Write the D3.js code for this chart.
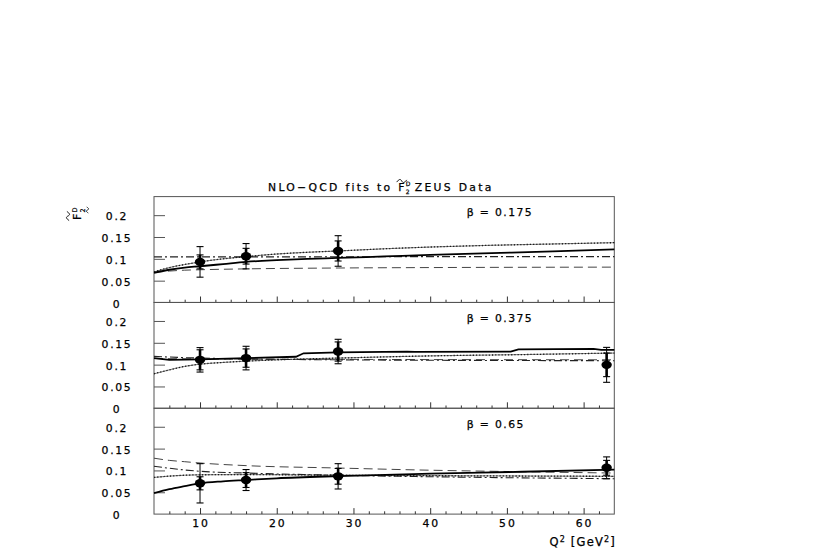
<!DOCTYPE html>
<html><head><meta charset="utf-8">
<script src="https://cdn.jsdelivr.net/npm/d3@7"></script>
<style>
body{margin:0;background:#fff}
svg text{font-family:"DejaVu Sans",sans-serif;fill:#000;stroke:#000;stroke-width:0.25px}
</style>
</head><body>
<svg id="c" width="830" height="554"></svg>
<script>
// ---------- data ----------
const betaLabels = ["β = 0.175", "β = 0.375", "β = 0.65"];
const xMajorTicks = [10, 20, 30, 40, 50, 60];
const xMinorTicks = [6, 8, 12, 14, 16, 18, 22, 24, 26, 28, 32, 34, 36, 38, 42, 44, 46, 48, 52, 54, 56, 58, 62];
const yTickValues = [0, 0.05, 0.1, 0.15, 0.2];
const yTickLabels = ["0", "0.05", "0.1", "0.15", "0.2"];

// data points: Q2, value, stat error, total error
const p1Q = [10, 16, 28];
const p1V = [0.093, 0.106, 0.118];
const p1Stat = [0.016, 0.018, 0.023];
const p1Tot = [0.035, 0.029, 0.035];

const p2Q = [10, 16, 28, 63];
const p2V = [0.111, 0.115, 0.130, 0.0995];
const p2Stat = [0.023, 0.021, 0.022, 0.027];
const p2Tot = [0.028, 0.027, 0.028, 0.040];

const p3Q = [10, 16, 28, 63];
const p3V = [0.0705, 0.078, 0.0865, 0.106];
const p3Stat = [0.015, 0.017, 0.018, 0.017];
const p3Tot = [0.045, 0.024, 0.029, 0.025];

// fit curves [Q2, value]
const p1Solid = [[4,0.068],[6,0.075],[8,0.080],[10,0.083],[13,0.088],[16,0.093],[20,0.097],[24,0.100],[28,0.102],[34,0.1055],[40,0.109],[48,0.113],[56,0.117],[64,0.1215]];
const p1Dotted = [[4,0.070],[6,0.080],[8,0.087],[10,0.093],[13,0.100],[16,0.105],[20,0.111],[24,0.115],[28,0.118],[34,0.123],[40,0.127],[48,0.131],[56,0.134],[64,0.137]];
const p1DashDot = [[4,0.1045],[20,0.1045],[40,0.105],[64,0.105]];
const p1Dashed = [[4,0.069],[6,0.072],[8,0.074],[10,0.075],[16,0.077],[28,0.079],[40,0.080],[64,0.081]];

const p2Solid = [[4,0.115],[6,0.111],[10,0.112],[16,0.115],[22.5,0.118],[23.5,0.126],[28,0.128],[37,0.130],[38,0.129],[50.5,0.130],[51.5,0.135],[61.3,0.136],[62.3,0.134],[64,0.134]];
const p2Dotted = [[4,0.079],[6,0.088],[8,0.096],[10,0.101],[13,0.105],[16,0.108],[20,0.111],[28,0.115],[40,0.120],[52,0.123],[64,0.1265]];
const p2DashDot = [[4,0.119],[8,0.116],[10,0.115],[16,0.113],[28,0.111],[40,0.110],[64,0.109]];
const p2Dashed = [[4,0.114],[10,0.113],[16,0.1125],[28,0.112],[64,0.111]];

const p3Solid = [[4,0.048],[6,0.057],[8,0.064],[10,0.0705],[13,0.075],[16,0.078],[20,0.082],[28,0.087],[40,0.0925],[52,0.097],[64,0.102]];
const p3Dotted = [[4,0.084],[6,0.087],[8,0.089],[10,0.090],[16,0.0905],[28,0.089],[40,0.088],[64,0.0865]];
const p3DashDot = [[4,0.1095],[6,0.105],[8,0.101],[10,0.098],[16,0.094],[28,0.089],[40,0.0855],[52,0.083],[64,0.081]];
const p3Dashed = [[4,0.128],[6,0.123],[8,0.120],[10,0.117],[16,0.111],[28,0.1055],[40,0.1005],[52,0.097],[64,0.094]];

// ---------- layout ----------
const svg = d3.select("#c");
const L = 154, R = 614.3;
const panelTops = [196.6, 302.4, 408.2];
const panelH = 105.9;
const x = d3.scaleLinear().domain([4, 64]).range([L, R]);

const panels = [
  {q: p1Q, v: p1V, s: p1Stat, t: p1Tot, solid: p1Solid, dotted: p1Dotted, dashdot: p1DashDot, dashed: p1Dashed},
  {q: p2Q, v: p2V, s: p2Stat, t: p2Tot, solid: p2Solid, dotted: p2Dotted, dashdot: p2DashDot, dashed: p2Dashed},
  {q: p3Q, v: p3V, s: p3Stat, t: p3Tot, solid: p3Solid, dotted: p3Dotted, dashdot: p3DashDot, dashed: p3Dashed}
];

const lineStyles = {
  dashed:  {w: 1, dash: "9,5", col: "#444"},
  dashdot: {w: 1.1, dash: "8,3,2,3", col: "#222"},
  dotted:  {w: 1.3, dash: "1.2,2", col: "#111"},
  solid:   {w: 1.8, dash: null, col: "#000"}
};

function tildePath(cx, cy, w, h) {
  const p = d3.path();
  p.moveTo(cx - w / 2, cy + h / 2);
  p.bezierCurveTo(cx - w / 4, cy - h, cx - w / 8, cy - h, cx, cy);
  p.bezierCurveTo(cx + w / 8, cy + h, cx + w / 4, cy + h, cx + w / 2, cy - h / 2);
  return p.toString();
}

panels.forEach((p, i) => {
  const top = panelTops[i], bot = top + panelH;
  const y = d3.scaleLinear().domain([0, 0.2425]).range([bot, top]);
  const g = svg.append("g");

  g.append("rect").attr("x", L).attr("y", top).attr("width", R - L).attr("height", panelH)
    .attr("fill", "none").attr("stroke", "#555").attr("stroke-width", 1);

  const ya = d3.axisLeft(y).tickValues(yTickValues.slice(1)).tickSize(-11).tickFormat("");
  const yg = g.append("g").attr("transform", `translate(${L},0)`).call(ya);
  yg.select(".domain").remove();
  yg.selectAll("line").attr("stroke", "#555");

  yTickValues.forEach((v, k) => {
    g.append("text").attr("x", 117).attr("y", y(v) + 5)
      .attr("text-anchor", "middle").attr("font-size", 10.8).attr("letter-spacing", 1.7)
      .text(yTickLabels[k]);
  });

  const xMin = d3.axisBottom(x).tickValues(xMinorTicks).tickSize(-2.8).tickFormat("");
  const xMaj = d3.axisBottom(x).tickValues(xMajorTicks).tickSize(-6).tickFormat("");
  const xg1 = g.append("g").attr("transform", `translate(0,${bot})`).call(xMin);
  const xg2 = g.append("g").attr("transform", `translate(0,${bot})`).call(xMaj);
  [xg1, xg2].forEach(a => { a.select(".domain").remove(); a.selectAll("line").attr("stroke", "#333"); });

  ["dashed", "dashdot", "dotted", "solid"].forEach(k => {
    const st = lineStyles[k];
    const line = d3.line().x(d => x(d[0])).y(d => y(d[1])).curve(k === "solid" && i === 1 ? d3.curveLinear : d3.curveMonotoneX);
    const path = g.append("path").datum(p[k]).attr("d", line)
      .attr("fill", "none").attr("stroke", st.col).attr("stroke-width", st.w);
    if (st.dash) path.attr("stroke-dasharray", st.dash);
    if (k === "dotted") {
      g.append("path").datum(p[k]).attr("d", line).attr("fill", "none")
        .attr("stroke", "#222").attr("stroke-width", 0.6);
    }
  });

  p.q.forEach((q, j) => {
    const cx = x(q), v = p.v[j];
    g.append("line").attr("x1", cx).attr("x2", cx).attr("y1", y(v + p.t[j])).attr("y2", y(v - p.t[j]))
      .attr("stroke", "#000").attr("stroke-width", 1);
    g.append("line").attr("x1", cx).attr("x2", cx).attr("y1", y(v + p.s[j])).attr("y2", y(v - p.s[j]))
      .attr("stroke", "#000").attr("stroke-width", 2.6);
    [v + p.t[j], v - p.t[j], v + p.s[j], v - p.s[j]].forEach(cv => {
      g.append("line").attr("x1", cx - 3.5).attr("x2", cx + 3.5).attr("y1", y(cv)).attr("y2", y(cv))
        .attr("stroke", "#000").attr("stroke-width", 1.1);
    });
    g.append("ellipse").attr("cx", cx).attr("cy", y(v)).attr("rx", 5.2).attr("ry", 4.2)
      .attr("fill", "#000");
  });

  g.append("text").attr("x", 466.7).attr("y", top + 19.8).attr("font-size", 10.8)
    .attr("letter-spacing", 1.4).text(betaLabels[i]);

  if (i === 2) {
    xMajorTicks.forEach(t => {
      g.append("text").attr("x", x(t) + 1).attr("y", bot + 13.2).attr("text-anchor", "middle")
        .attr("font-size", 10.8).attr("letter-spacing", 1.9).text(t);
    });
  }
});

// axis title
const xt = svg.append("text").attr("x", 616).attr("y", 545.5).attr("text-anchor", "end")
  .attr("font-size", 11.5).attr("letter-spacing", 1.2);
xt.append("tspan").text("Q");
xt.append("tspan").attr("font-size", 8).attr("dy", -4).text("2");
xt.append("tspan").attr("dy", 4).text(" [GeV");
xt.append("tspan").attr("font-size", 8).attr("dy", -4).text("2");
xt.append("tspan").attr("dy", 4).text("]");

// title
const tx0 = 268;
const t1 = svg.append("text").attr("x", tx0).attr("y", 191).attr("font-size", 10.8)
  .attr("letter-spacing", 2.3).text("NLO\u2212QCD fits to F");
const w1 = t1.node().getComputedTextLength();
const fx = tx0 + w1;
svg.append("path").attr("d", tildePath(fx - 5, 181, 10, 2.2))
  .attr("fill", "none").attr("stroke", "#000").attr("stroke-width", 0.9);
svg.append("text").attr("x", fx - 1).attr("y", 186).attr("font-size", 6).text("D");
svg.append("text").attr("x", fx - 1).attr("y", 193.6).attr("font-size", 6).text("2");
svg.append("text").attr("x", fx + 8).attr("y", 191).attr("font-size", 10.8)
  .attr("letter-spacing", 2.3).text("ZEUS Data");

// y-axis title (rotated F~2D)
const yt = svg.append("g").attr("transform", "translate(81,220) rotate(-90)");
yt.append("text").attr("x", 0).attr("y", 0).attr("font-size", 11).text("F");
yt.append("path").attr("d", tildePath(4, -13, 9, 2.2))
  .attr("fill", "none").attr("stroke", "#000").attr("stroke-width", 0.9);
yt.append("text").attr("x", 7.5).attr("y", -4).attr("font-size", 6.5).text("D");
yt.append("text").attr("x", 7.5).attr("y", 3.5).attr("font-size", 6.5).text("2");
yt.append("path").attr("d", tildePath(10, 6.5, 6, 1.6))
  .attr("fill", "none").attr("stroke", "#000").attr("stroke-width", 0.8);
</script>
</body></html>
